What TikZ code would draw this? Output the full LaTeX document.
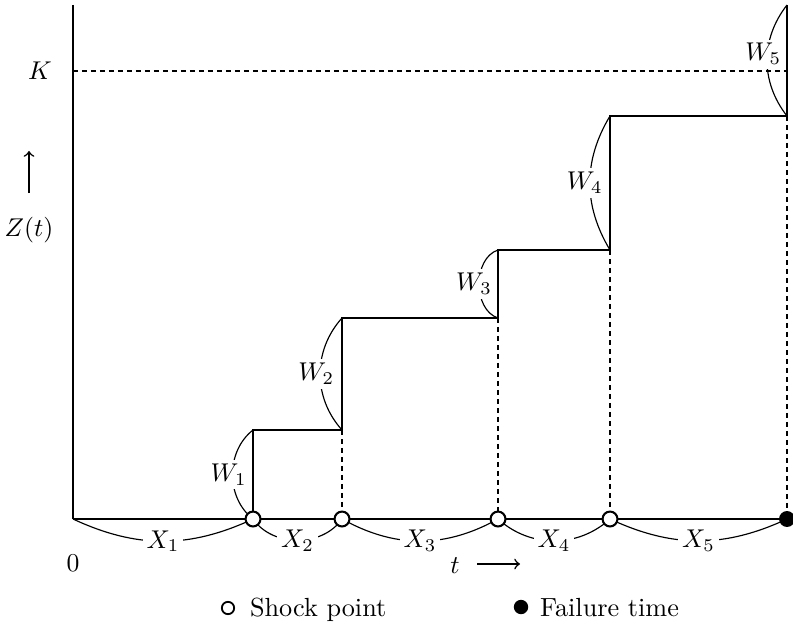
\documentclass[tikz,border=0pt]{standalone}
\begin{document}
\begin{tikzpicture}[x=0.389pt,y=-0.389pt,
  every node/.append style={font=\fontsize{10.2pt}{12pt}\selectfont},
  axis/.style={line width=0.7pt},
  stair/.style={line width=1pt},
  guide/.style={line width=0.4pt,dash pattern=on 2pt off 1.5pt},
  brace/.style={line width=0.45pt},
  lab/.style={fill=white,inner sep=1.5pt},
  shock/.style={circle,draw,fill=white,line width=0.8pt,minimum size=5.8pt,inner sep=0pt},
  fail/.style={circle,fill=black,minimum size=6.2pt,inner sep=0pt}]
\useasboundingbox (0,0) rectangle (793,625);
% coordinates
\coordinate (O) at (73,519);
\coordinate (T) at (73,5);
\coordinate (E) at (787,519);
\coordinate (A1) at (253,519); \coordinate (B1) at (253,430);
\coordinate (A2) at (342,519); \coordinate (C2) at (342,430); \coordinate (B2) at (342,318);
\coordinate (A3) at (498,519); \coordinate (C3) at (498,318); \coordinate (B3) at (498,250);
\coordinate (A4) at (610,519); \coordinate (C4) at (610,250); \coordinate (B4) at (610,116);
\coordinate (C5) at (787,116); \coordinate (B5) at (787,5);
\coordinate (K0) at (73,71); \coordinate (K1) at (787,71);
% dashed guides
\draw[guide] (K0) -- (K1);
\draw[guide] (C2) -- (A2);
\draw[guide] (C3) -- (A3);
\draw[guide] (C4) -- (A4);
\draw[guide] (C5) -- (E);
% braces
\draw[brace] (O)  to[bend right=25] node[lab] {$X_1$} (A1);
\draw[brace] (A1) to[bend right=55] node[lab] {$X_2$} (A2);
\draw[brace] (A2) to[bend right=29] node[lab] {$X_3$} (A3);
\draw[brace] (A3) to[bend right=42] node[lab] {$X_4$} (A4);
\draw[brace] (A4) to[bend right=25] node[lab] {$X_5$} (E);
\draw[brace] (A1) to[bend left=52] node[lab,xshift=-1.5pt] {$W_1$} (B1);
\draw[brace] (C2) to[bend left=42] node[lab,xshift=-1.5pt] {$W_2$} (B2);
\draw[brace] (C3) to[bend left=72] node[lab,xshift=-2pt] {$W_3$} (B3);
\draw[brace] (C4) to[bend left=31] node[lab,xshift=-2pt] {$W_4$} (B4);
\draw[brace] (C5) to[bend left=38] node[lab,xshift=-1.5pt,yshift=2.5pt] {$W_5$} (B5);
% axes and path
\draw[axis] (T) -- (O);
\draw[stair] (O) -- (E);
\draw[stair] (A1) -- (B1) -- (C2) -- (B2) -- (C3) -- (B3) -- (C4) -- (B4) -- (C5) -- (B5);
% points
\node[shock] (p1) at (A1) {};
\node[shock] (p2) at (A2) {};
\node[shock] (p3) at (A3) {};
\node[shock] (p4) at (A4) {};
\node[fail] (pf) at (E) {};
% labels
\node (K) at (40,71) {$K$};
\node (Z) at (29,230) {$Z(t)$};
\coordinate (za) at (29,193); \coordinate (zb) at (29,151);
\draw[line width=0.6pt,->] (za) -- (zb);
\node (zero) at (73,563) {$0$};
\node (t) at (455,566) {$t$};
\coordinate (ta) at (477,564); \coordinate (tb) at (520,564);
\draw[line width=0.6pt,->] (ta) -- (tb);
% legend
\node[shock,minimum size=4.8pt,line width=0.7pt] (lo) at (228,608) {};
\node[anchor=base west] (lot) at (241,616) {Shock point};
\node[fail,minimum size=5.6pt] (lf) at (521,607) {};
\node[anchor=base west] (lft) at (531,616) {Failure time};
\end{tikzpicture}
\end{document}
